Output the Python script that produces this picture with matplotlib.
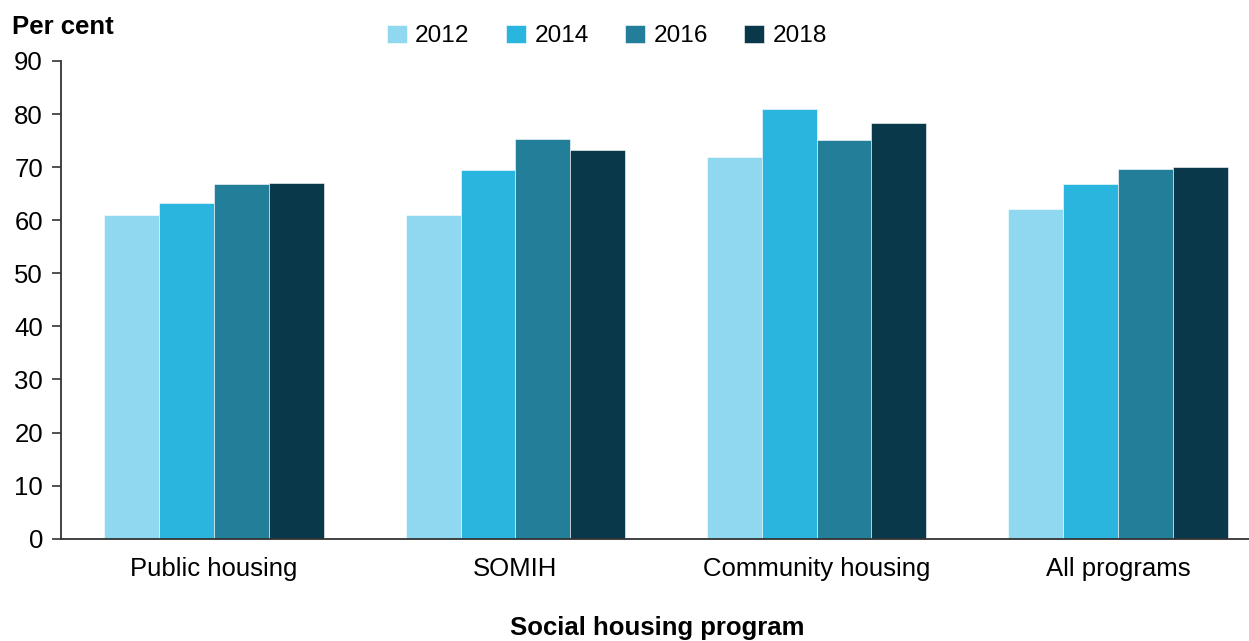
import matplotlib
matplotlib.use('Agg')
import matplotlib.pyplot as plt
import numpy as np

plt.rcParams['font.family'] = ['Liberation Sans', 'DejaVu Sans']

categories = ['Public housing', 'SOMIH', 'Community housing', 'All programs']
years = ['2012', '2014', '2016', '2018']
values_2012 = [61.0, 61.0, 72.0, 62.1]
values_2014 = [63.3, 69.4, 81.0, 66.8]
values_2016 = [66.8, 75.3, 75.2, 69.6]
values_2018 = [67.1, 73.2, 78.4, 70.0]
series = [values_2012, values_2014, values_2016, values_2018]
colors = ['#8FD8F0', '#29B5DE', '#237F99', '#0A384B']

W, H = 1249, 641
fs = 18.5
fig = plt.figure(figsize=(W / 100, H / 100), dpi=100)
ax = fig.add_axes([61 / W, 1 - 538.7 / H, (W - 61) / W, (538.7 - 61) / H])

x = np.arange(len(categories))
bw = 0.182
for i, (yr, vals) in enumerate(zip(years, series)):
    ax.bar(x + (i - 1.5) * bw, vals, bw, color=colors[i], label=yr,
           edgecolor='white', linewidth=0.4)

ax.set_xlim(-0.508, 3.435)
ax.set_ylim(0, 90)
ax.set_yticks(range(0, 91, 10))
ax.set_xticks(x)
ax.set_xticklabels(categories, fontsize=fs)
ax.tick_params(axis='x', length=0, pad=13)
ax.tick_params(axis='y', direction='out', length=6.5, width=1.2, labelsize=fs,
               color='#333333', pad=6.5)
for s in ['top', 'right']:
    ax.spines[s].set_visible(False)
for s in ['left', 'bottom']:
    ax.spines[s].set_color('#333333')
    ax.spines[s].set_linewidth(1.3)

fig.text(12 / W, 1 - 27 / H, 'Per cent', fontsize=fs, fontweight='bold',
         ha='left', va='center')
fig.text(657 / W, 1 - 628 / H, 'Social housing program', fontsize=fs,
         fontweight='bold', ha='center', va='center')

ax.legend(ncol=4, loc='center', bbox_to_anchor=(607 / W, 1 - 36 / H),
          bbox_transform=fig.transFigure, frameon=False, fontsize=fs * 0.95,
          handlelength=0.8, handleheight=0.8, handletextpad=0.35,
          columnspacing=1.5)

fig.savefig('out.png', dpi=100)
